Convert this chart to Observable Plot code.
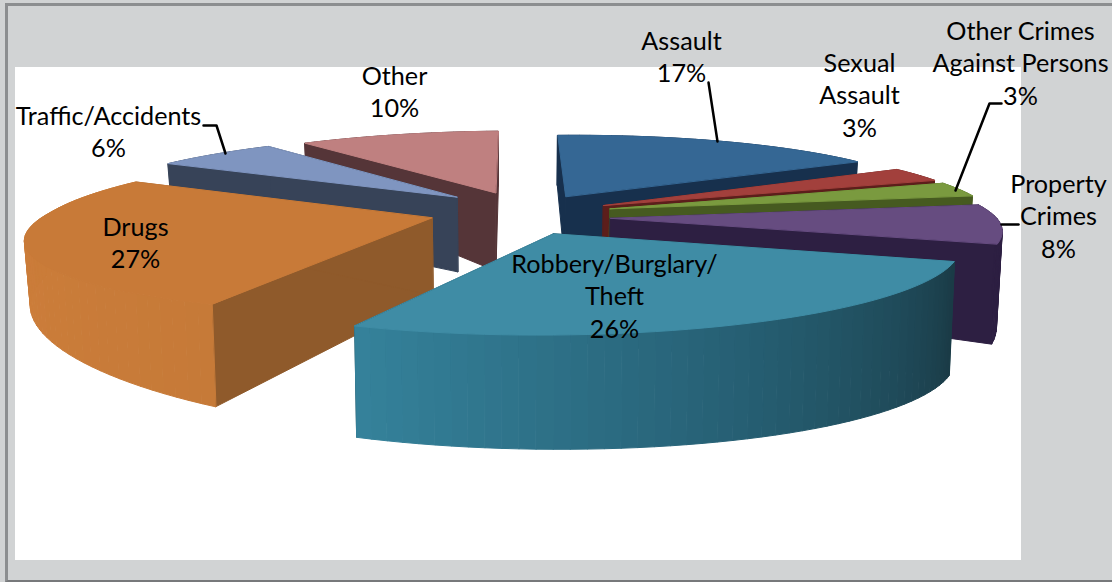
<!DOCTYPE html>
<html><head><meta charset="utf-8">
<script src="https://cdn.jsdelivr.net/npm/d3@7"></script>
<script src="https://cdn.jsdelivr.net/npm/@observablehq/plot@0.6"></script>
<style>
html,body{margin:0;padding:0;background:#d1d3d4;overflow:hidden}
#frame{position:absolute;left:5px;top:3px;width:1107px;height:579px;box-sizing:border-box;background:#d1d3d4;border-top:3px solid #8c8e90;border-left:3px solid #8c8e90;border-bottom:2px solid #77797b}
#white{position:absolute;left:15px;top:67px;width:1006px;height:493px;background:#fff}
#chart{position:absolute;left:0;top:0}
</style></head><body>
<div id="frame"></div><div id="white"></div><div id="chart"></div>
<script>
const categories=["Assault","Sexual Assault","Other Crimes Against Persons","Property Crimes","Robbery/Burglary/Theft","Drugs","Traffic/Accidents","Other"];
const percents=[17,3,3,8,26,27,6,10];
const topColors=["#356794","#a2403c","#7a9a3f","#664c80","#3f8ca5","#c87a38","#7f95c0","#bf8080"];
const faceColors=["#17304d","#5c1e1b","#465a20","#2d1f42","#1e4450","#8f5a2b","#374358","#553538"];
const wallLeftColors=["#17304d","#5c1e1b","#465a20","#2d1f42","#1a3a45","#c67a38","#374358","#553538"];
const wallMidColors=["#17304d","#5c1e1b","#465a20","#2d1f42","#265f73","#cc7d3a","#374358","#553538"];
const wallRightColors=["#17304d","#5c1e1b","#465a20","#2d1f42","#35829b","#c67a38","#374358","#553538"];
const labelLines=[["Assault","17%"],["Sexual","Assault","3%"],["Other Crimes","Against Persons","3%"],["Property","Crimes","8%"],["Robbery/Burglary/","Theft","26%"],["Drugs","27%"],["Traffic/Accidents","6%"],["Other","10%"]];
const labelX=[681,859,1020,1058,614,135,108,394];
const labelY=[41,63,31,184,264,227,116,76];
const leaders=[[[708,82],[717,141]],[[203,125],[216,125],[225,153]],[[1001,103],[989,103],[955,190]],[[1001,224],[1018,224]]];

// pie geometry
const startDeg=-3;
const explode=[.25,.25,.25,.235,.25,.235,.2,.2];
const heightScale=[1,1,1,.92,1.42,1.08,1.1,1.15];
const heightPower=[2,2,2,2,.3,2,2,2];
const heightTilt=[.25,.25,.25,.25,.05,.25,.25,.25];
const nudgeX=[2,0,0,3,0,3,-5,2];
const nudgeY=[-1,0,0,3,2,-2,-7,-7];
const cx=517,cy=213.5,A=385,Bback=78,Bfront=75,k=.185,shearBack=15,shearFront=25,H=74;
const persp=(u,v)=>1/(1+k*v);
function topPt(u,v){const s=persp(u,v);return [cx+A*u*s+(v>0?shearBack:shearFront)*v,cy-(v>0?Bback:Bfront)*v*s];}
function botPt(u,v,i){const s=persp(u,v);const [x,y]=topPt(u,v);return [cx+(x-cx)*.988,y+heightScale[i]*H*Math.pow(s,heightPower[i])*(1+heightTilt[i]*u)];}

const pts=[];let serial=0;
function poly(list,c,i){const id=serial++;for(const p of list)pts.push({id,c,x:p[0]+nudgeX[i],y:p[1]+nudgeY[i]});}
let acc=0;
const rad=d=>d*Math.PI/180;
const slices=percents.map((p,i)=>{const a0=startDeg+acc*3.6;acc+=p;const a1=startDeg+acc*3.6;return {i,a0,a1};});
const order=[7,0,1,2,6,3,5,4];
for(const i of order){
  const {a0,a1}=slices[i],b=rad((a0+a1)/2),e=explode[i];
  const ou=e*Math.sin(b),ov=e*Math.cos(b);
  const pu=a=>ou+Math.sin(rad(a)),pv=a=>ov+Math.cos(rad(a));
  const n=Math.max(4,Math.round((a1-a0)/2));
  const angs=d3.range(n+1).map(j=>a0+(a1-a0)*j/n);
  const wall=(j)=>{const a=angs[j],b2=angs[j+1];
    const t=(j+.5)/n;
    const col=t<.5?d3.interpolateRgb(wallLeftColors[i],wallMidColors[i])(t*2):d3.interpolateRgb(wallMidColors[i],wallRightColors[i])(t*2-1);
    return [[topPt(pu(a),pv(a)),topPt(pu(b2),pv(b2)),botPt(pu(b2),pv(b2),i),botPt(pu(a),pv(a),i)],d3.rgb(col).formatHex()];};
  const back=[],front=[];
  for(let j=0;j<n;j++){const am=(angs[j]+angs[j+1])/2;(Math.cos(rad(am))>0?back:front).push(j);}
  for(const j of back){const [q,c]=wall(j);poly(q,c,i);}
  const cutFace=a=>poly([topPt(ou,ov),topPt(pu(a),pv(a)),botPt(pu(a),pv(a),i),botPt(ou,ov,i)],faceColors[i],i);
  cutFace(a0);cutFace(a1);
  for(const j of front){const [q,c]=wall(j);poly(q,c,i);}
  poly([topPt(ou,ov),...angs.map(a=>topPt(pu(a),pv(a)))],topColors[i],i);
}
const texts=[];
labelLines.forEach((ls,i)=>ls.forEach((t,j)=>texts.push({t,x:labelX[i],y:labelY[i]+j*32.7})));
const leaderPts=leaders.flatMap((l,id)=>l.map(p=>({id,x:p[0],y:p[1]})));

const plot=Plot.plot({
  width:1112,height:582,margin:0,
  x:{domain:[0,1112],range:[0,1112],axis:null},
  y:{domain:[0,582],range:[0,582],axis:null},
  color:{type:"identity"},
  style:{background:"transparent"},
  marks:[
    Plot.line(pts,{x:"x",y:"y",z:"id",fill:"c",stroke:"c",strokeWidth:1,curve:"linear-closed"}),
    Plot.line(leaderPts,{x:"x",y:"y",z:"id",stroke:"#000",strokeWidth:2.5,curve:"linear"}),
    Plot.text(texts,{x:"x",y:"y",text:"t",fontSize:25.2,fontFamily:"Lato",fill:"#000",lineAnchor:"middle"})
  ]
});
document.getElementById("chart").appendChild(plot);
</script></body></html>
